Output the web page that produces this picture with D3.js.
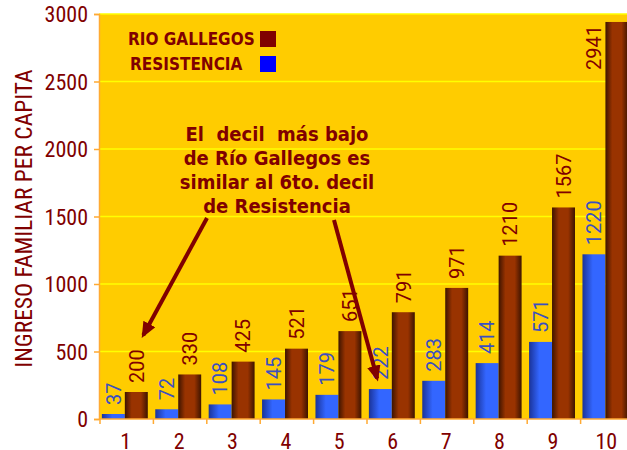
<!DOCTYPE html>
<html>
<head>
<meta charset="utf-8">
<script src="https://cdn.jsdelivr.net/npm/d3@7"></script>
<style>
  body { margin: 0; background: #fff; }
  svg { display: block; }
</style>
</head>
<body>
<div id="chart"></div>
<script>
var deciles = ["1", "2", "3", "4", "5", "6", "7", "8", "9", "10"];
var resistencia = [37, 72, 108, 145, 179, 222, 283, 414, 571, 1220];
var rioGallegos = [200, 330, 425, 521, 651, 791, 971, 1210, 1567, 2941];
var yTicks = [0, 500, 1000, 1500, 2000, 2500, 3000];
var seriesNames = ["RESISTENCIA", "RIO GALLEGOS"];
var noteLines = ["El  decil  más bajo", "de Río Gallegos es", "similar al 6to. decil", "de Resistencia"];

var width = 627, height = 450;
var plotLeft = 99, plotTop = 14, plotBottom = 419;
var bandW = 53.4;

var narrow = "'Liberation Sans Narrow', 'Arial Narrow', 'Roboto Condensed', sans-serif";
var tahoma = "Tahoma, 'DejaVu Sans Condensed', 'DejaVu Sans', sans-serif";
var darkRed = "#800000";

var svg = d3.select("#chart").append("svg")
    .attr("width", width)
    .attr("height", height);

var x = d3.scaleBand().domain(deciles).range([plotLeft + 1, plotLeft + 1 + bandW * deciles.length]).padding(0);
var x1 = d3.scaleBand().domain(seriesNames).range([bandW * 0.035, bandW * 0.895]).padding(0);
var y = d3.scaleLinear().domain([0, 3000]).range([plotBottom, plotTop]);

// gradients for the bars
var defs = svg.append("defs");
var gBlue = defs.append("linearGradient").attr("id", "gBlue");
gBlue.append("stop").attr("offset", "0%").attr("stop-color", "#1a3399");
gBlue.append("stop").attr("offset", "45%").attr("stop-color", "#3366ff");
gBlue.append("stop").attr("offset", "100%").attr("stop-color", "#3366ff");
var gBrown = defs.append("linearGradient").attr("id", "gBrown");
gBrown.append("stop").attr("offset", "0%").attr("stop-color", "#3d1400");
gBrown.append("stop").attr("offset", "30%").attr("stop-color", "#993300");
gBrown.append("stop").attr("offset", "70%").attr("stop-color", "#993300");
gBrown.append("stop").attr("offset", "100%").attr("stop-color", "#3d1400");

defs.append("marker")
    .attr("id", "head")
    .attr("viewBox", "0 0 10 10")
    .attr("refX", 8).attr("refY", 5)
    .attr("markerWidth", 4).attr("markerHeight", 3.4)
    .attr("orient", "auto")
    .attr("preserveAspectRatio", "none")
    .append("path")
    .attr("d", "M0,0 L10,5 L0,10 Z")
    .attr("fill", darkRed);

// plot background
svg.append("rect")
    .attr("x", plotLeft)
    .attr("y", plotTop)
    .attr("width", width - plotLeft)
    .attr("height", plotBottom - plotTop)
    .attr("fill", "#ffcc00");

svg.append("g").selectAll("line")
    .data(yTicks.slice(1))
    .enter().append("line")
    .attr("x1", plotLeft).attr("x2", width)
    .attr("y1", d => y(d)).attr("y2", d => y(d))
    .attr("stroke", "#ffff00")
    .attr("stroke-width", 1.3);

// bars
var fills = { "RESISTENCIA": "url(#gBlue)", "RIO GALLEGOS": "url(#gBrown)" };
var labelCols = { "RESISTENCIA": "#3a4fc0", "RIO GALLEGOS": darkRed };
var rows = [];
deciles.forEach(function (d, i) {
    rows.push({ cat: d, s: "RESISTENCIA", v: resistencia[i] });
    rows.push({ cat: d, s: "RIO GALLEGOS", v: rioGallegos[i] });
});

svg.append("g").selectAll("rect")
    .data(rows)
    .enter().append("rect")
    .attr("x", d => x(d.cat) + x1(d.s))
    .attr("y", d => y(d.v))
    .attr("width", x1.bandwidth())
    .attr("height", d => plotBottom - y(d.v))
    .attr("fill", d => fills[d.s]);

// value labels, rotated; a label that would leave the plot goes beside the bar
function tooHigh(d) { return y(d.v) - 54 < plotTop; }
svg.append("g").selectAll("text")
    .data(rows)
    .enter().append("text")
    .attr("transform", function (d) {
        var cx = x(d.cat) + x1(d.s) + x1.bandwidth() / 2;
        var ty = y(d.v) - 9;
        if (tooHigh(d)) { cx -= x1.bandwidth(); ty = plotTop + 11; }
        return "translate(" + cx + "," + ty + ") rotate(-90)";
    })
    .attr("text-anchor", d => tooHigh(d) ? "end" : "start")
    .attr("dy", "0.36em")
    .attr("font-family", "Roboto, sans-serif")
    .attr("font-size", 20)
    .attr("fill", d => labelCols[d.s])
    .text(d => d.v);

// axes
var yAxis = svg.append("g")
    .attr("transform", "translate(" + plotLeft + ",0)")
    .call(d3.axisLeft(y).tickValues(yTicks).tickFormat(d3.format("d")).tickSize(5).tickPadding(6));
yAxis.select(".domain").attr("stroke", "#ffaa33").attr("stroke-width", 1.5);
yAxis.selectAll(".tick line").attr("stroke", "#ffaa33").attr("stroke-width", 1.5);
yAxis.selectAll(".tick text")
    .attr("font-family", narrow)
    .attr("font-size", 22)
    .attr("fill", darkRed)
    .attr("dy", "0.36em");

var xAxis = svg.append("g")
    .attr("transform", "translate(0," + plotBottom + ")");
xAxis.append("line")
    .attr("x1", plotLeft).attr("x2", width)
    .attr("stroke", "#ffaa33").attr("stroke-width", 1.5);
xAxis.selectAll(".tk")
    .data(deciles)
    .enter().append("line")
    .attr("class", "tk")
    .attr("x1", d => x(d)).attr("x2", d => x(d))
    .attr("y1", 0).attr("y2", 5)
    .attr("stroke", "#ffaa33").attr("stroke-width", 1.5);
xAxis.selectAll("text")
    .data(deciles)
    .enter().append("text")
    .attr("x", d => x(d) + x.bandwidth() / 2 - 1)
    .attr("y", 30)
    .attr("text-anchor", "middle")
    .attr("font-family", narrow)
    .attr("font-size", 22)
    .attr("fill", darkRed)
    .text(d => d);

// axis title
svg.append("text")
    .attr("transform", "translate(32," + ((plotTop + plotBottom) / 2 + 2) + ") rotate(-90)")
    .attr("text-anchor", "middle")
    .attr("font-family", narrow)
    .attr("font-size", 23.5)
    .attr("fill", darkRed)
    .text("INGRESO FAMILIAR PER CAPITA");

// legend
var legendItems = [
    { name: "RIO GALLEGOS", color: "#800000" },
    { name: "RESISTENCIA", color: "#0000ff" }
];
var lg = svg.append("g").attr("transform", "translate(128,31)");
lg.selectAll("rect")
    .data(legendItems)
    .enter().append("rect")
    .attr("x", 132)
    .attr("y", (d, i) => i * 25)
    .attr("width", 16).attr("height", 16)
    .attr("fill", d => d.color);
lg.selectAll("text")
    .data(legendItems)
    .enter().append("text")
    .attr("x", (d, i) => i * 2)
    .attr("y", (d, i) => i * 25 + 14)
    .attr("font-family", tahoma)
    .attr("font-size", 17)
    .attr("font-weight", "bold")
    .attr("fill", darkRed)
    .text(d => d.name);

// annotation
svg.append("g").selectAll("text")
    .data(noteLines)
    .enter().append("text")
    .attr("x", 277)
    .attr("y", (d, i) => 140.5 + i * 24.3)
    .attr("text-anchor", "middle")
    .attr("font-family", tahoma)
    .attr("font-size", 20)
    .attr("font-weight", "bold")
    .attr("fill", darkRed)
    .style("white-space", "pre")
    .text(d => d);

// arrows point at decile 1 of Rio Gallegos and decile 6 of Resistencia
var arrows = [
    { from: [207, 218], cat: "1", frac: 0.81, v: 620 },
    { from: [334, 220], cat: "6", frac: 0.19, v: 300 }
];
svg.append("g").selectAll("line")
    .data(arrows)
    .enter().append("line")
    .attr("x1", d => d.from[0]).attr("y1", d => d.from[1])
    .attr("x2", d => x(d.cat) + bandW * d.frac)
    .attr("y2", d => y(d.v))
    .attr("stroke", darkRed)
    .attr("stroke-width", 4)
    .attr("marker-end", "url(#head)");
</script>
</body>
</html>
